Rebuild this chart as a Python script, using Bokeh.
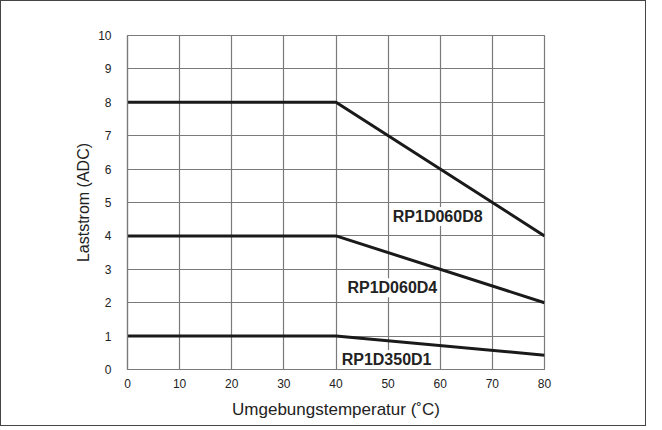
from bokeh.plotting import figure
from bokeh.models import Range1d, FixedTicker
from bokeh.core.properties import value
from bokeh.embed import file_html
from bokeh.resources import INLINE

# Data
temp = [0, 40, 80]
d8 = [8, 8, 4]
d4 = [4, 4, 2]
d1 = [1, 1, 0.43]
series = [d8, d4, d1]

label_names = ["RP1D060D8", "RP1D060D4", "RP1D350D1"]
label_x = [50.7, 42.0, 40.9]
label_y = [4.58, 2.45, 0.30]

x_ticks = [0, 10, 20, 30, 40, 50, 60, 70, 80]
y_ticks = [0, 1, 2, 3, 4, 5, 6, 7, 8, 9, 10]

FONT = "Liberation Sans"
GRID = "#7a7a7a"

p = figure(width=644, height=424, output_backend="svg", toolbar_location=None,
           x_range=Range1d(0, 80), y_range=Range1d(0, 10),
           frame_width=417, frame_height=334,
           min_border_left=126, min_border_right=101,
           min_border_top=34, min_border_bottom=56)
p.styles = {"border": "1.5px solid #444444", "box-sizing": "border-box"}

p.outline_line_color = GRID
p.outline_line_width = 1.2

p.xgrid.ticker = FixedTicker(ticks=x_ticks)
p.ygrid.ticker = FixedTicker(ticks=y_ticks)
p.xaxis.ticker = FixedTicker(ticks=x_ticks)
p.yaxis.ticker = FixedTicker(ticks=y_ticks)
for g in (p.xgrid, p.ygrid):
    g.grid_line_color = GRID
    g.grid_line_width = 1.2

for ax in (p.xaxis, p.yaxis):
    ax.axis_line_color = GRID
    ax.axis_line_width = 1.2
    ax.major_tick_line_color = None
    ax.minor_tick_line_color = None
    ax.major_label_text_font = FONT
    ax.major_label_text_font_size = "12px"
    ax.major_label_text_color = "#222222"
    ax.axis_label_text_font = FONT
    ax.axis_label_text_font_style = "normal"
    ax.axis_label_text_color = "#222222"

p.xaxis.axis_label = "Umgebungstemperatur (˚C)"
p.xaxis.axis_label_text_font_size = "17px"
p.xaxis.major_label_standoff = 3
p.xaxis.axis_label_standoff = 9
p.yaxis.axis_label = "Laststrom (ADC)"
p.yaxis.axis_label_text_font_size = "16px"
p.yaxis.major_label_standoff = 10
p.yaxis.axis_label_standoff = 3

for s in series:
    p.line(temp, s, line_color="#1a1a1a", line_width=3)

p.text(x=label_x, y=label_y, text=label_names,
       text_font=value(FONT), text_font_style="bold", text_font_size="16px",
       text_color="#222222", text_align="left", text_baseline="middle",
       background_fill_color="white", padding=1)

open("out.html", "w").write(file_html(p, INLINE))
